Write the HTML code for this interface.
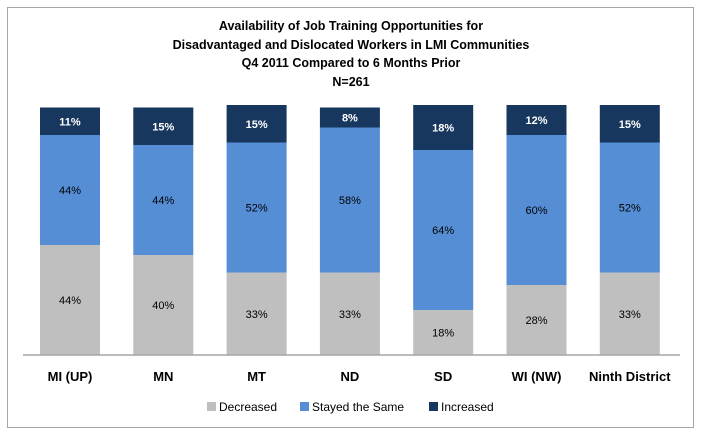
<!DOCTYPE html>
<html><head><meta charset="utf-8"><style>
body{margin:0;background:#fff;font-family:"Liberation Sans",sans-serif}
</style></head><body>
<svg width="701" height="435">
<rect x="7.5" y="7.5" width="686" height="420" fill="#fff" stroke="#a6a6a6"/>
<g font-weight="bold" font-size="12.5" text-anchor="middle" fill="#000">
<text x="351" y="30">Availability of Job Training Opportunities for</text>
<text x="351" y="49">Disadvantaged  and Dislocated Workers in LMI Communities</text>
<text x="351" y="67">Q4 2011 Compared to 6 Months Prior</text>
<text x="351" y="86">N=261</text>
</g>
<g id="bars"></g>
<line x1="23" y1="355" x2="680" y2="355" stroke="#a6a6a6" stroke-width="1.5"/>
<g font-size="12" fill="#000">
<rect x="207" y="402" width="9" height="9" fill="#bfbfbf"/><text x="219" y="411">Decreased</text>
<rect x="300" y="402" width="9" height="9" fill="#558ed5"/><text x="312" y="411">Stayed the Same</text>
<rect x="429" y="402" width="9" height="9" fill="#17375e"/><text x="441" y="411">Increased</text>
</g>
</svg>
<script>
const categories=["MI (UP)","MN","MT","ND","SD","WI (NW)","Ninth District"];
const decreased=[44,40,33,33,18,28,33];
const stayed=[44,44,52,58,64,60,52];
const increased=[11,15,15,8,18,12,15];
const base=355, k=2.5, x0=70, step=93.3, w=60;
const y=v=>v*k;
const g=document.getElementById('bars');
const NS="http://www.w3.org/2000/svg";
const series=[[decreased,"#bfbfbf","#000","decreased"],[stayed,"#558ed5","#000","stayed"],[increased,"#17375e","#fff","increased"]];
categories.forEach((c,i)=>{
  let cum=0;
  const cx=x0+i*step;
  series.forEach(([arr,col,tc,nm])=>{
    const h=y(arr[i]);const top=base-y(cum)-h;
    const r=document.createElementNS(NS,'rect');
    r.setAttribute('x',cx-w/2);r.setAttribute('y',top);r.setAttribute('width',w);r.setAttribute('height',h);r.setAttribute('fill',col);
    
    
    g.appendChild(r);
    const t=document.createElementNS(NS,'text');
    t.setAttribute('x',cx);t.setAttribute('y',top+h/2+4);t.setAttribute('text-anchor','middle');t.setAttribute('font-size','11');t.setAttribute('fill',tc);
    if(nm==="increased")t.setAttribute('font-weight','bold');
    t.textContent=arr[i]+'%';
    
    
    g.appendChild(t);
    cum+=arr[i];
  });
  const l=document.createElementNS(NS,'text');
  l.setAttribute('x',cx);l.setAttribute('y',381);l.setAttribute('text-anchor','middle');l.setAttribute('font-size','13');l.setAttribute('font-weight','bold');
  l.textContent=c;
  
  
  g.appendChild(l);
});
</script>
</body></html>
